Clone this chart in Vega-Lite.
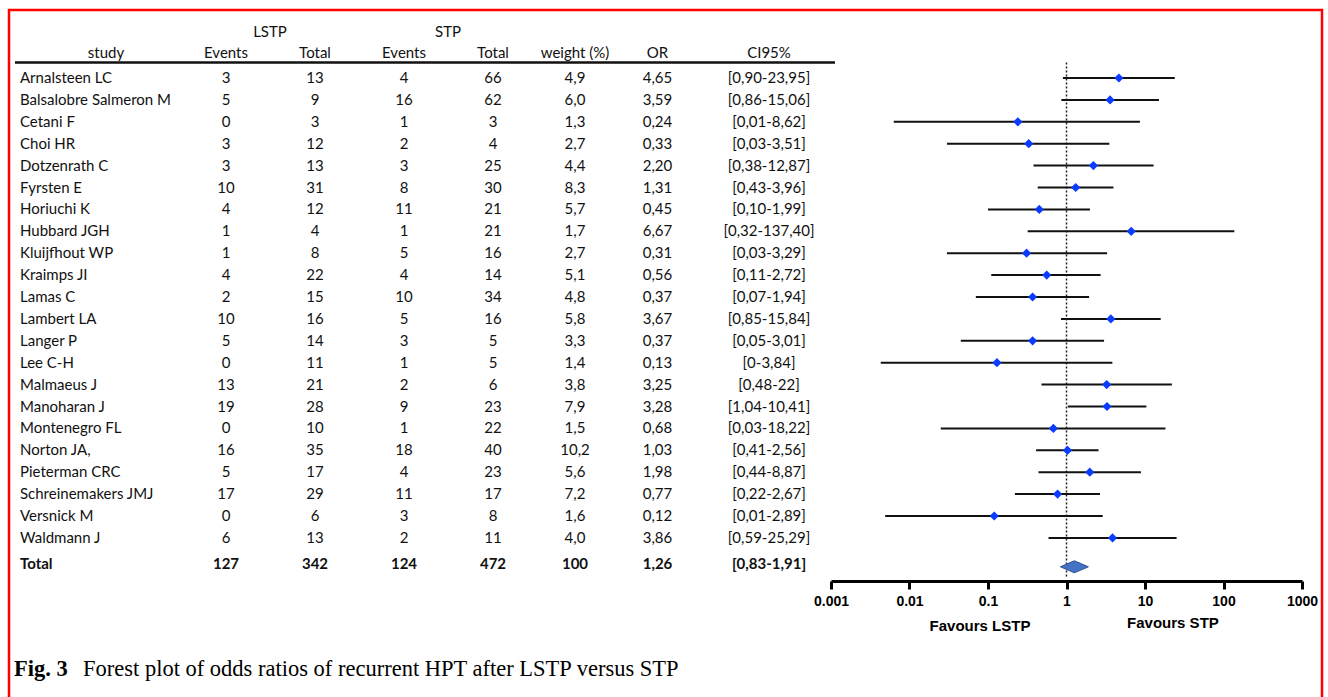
{
  "$schema": "https://vega.github.io/schema/vega-lite/v6.json",
  "width": 1313,
  "height": 687,
  "autosize": {"type": "none"},
  "padding": {"top": 10, "left": 9, "right": 6, "bottom": 0},
  "background": "white",
  "config": {
    "view": {"stroke": "#ff0000", "strokeWidth": 2.5, "strokeDash": [2000, 1313, 800]},
    "locale": {"number": {"decimal": ",", "thousands": ".", "grouping": [3], "currency": ["", " €"]}},
    "text": {"font": "Lato", "fontSize": 15, "color": "#111111", "baseline": "middle"}
  },
  "datasets": {
    "rows": [
      {"study": "Arnalsteen LC", "eL": 3, "tL": 13, "eS": 4, "tS": 66, "weight": "4,9", "or": 4.65, "ci": "[0,90-23,95]", "lo": 0.90, "hi": 23.95},
      {"study": "Balsalobre Salmeron M", "eL": 5, "tL": 9, "eS": 16, "tS": 62, "weight": "6,0", "or": 3.59, "ci": "[0,86-15,06]", "lo": 0.86, "hi": 15.06},
      {"study": "Cetani F", "eL": 0, "tL": 3, "eS": 1, "tS": 3, "weight": "1,3", "or": 0.24, "ci": "[0,01-8,62]", "lo": 0.0063, "hi": 8.62},
      {"study": "Choi HR", "eL": 3, "tL": 12, "eS": 2, "tS": 4, "weight": "2,7", "or": 0.33, "ci": "[0,03-3,51]", "lo": 0.03, "hi": 3.51},
      {"study": "Dotzenrath C", "eL": 3, "tL": 13, "eS": 3, "tS": 25, "weight": "4,4", "or": 2.20, "ci": "[0,38-12,87]", "lo": 0.38, "hi": 12.87},
      {"study": "Fyrsten E", "eL": 10, "tL": 31, "eS": 8, "tS": 30, "weight": "8,3", "or": 1.31, "ci": "[0,43-3,96]", "lo": 0.43, "hi": 3.96},
      {"study": "Horiuchi K", "eL": 4, "tL": 12, "eS": 11, "tS": 21, "weight": "5,7", "or": 0.45, "ci": "[0,10-1,99]", "lo": 0.10, "hi": 1.99},
      {"study": "Hubbard JGH", "eL": 1, "tL": 4, "eS": 1, "tS": 21, "weight": "1,7", "or": 6.67, "ci": "[0,32-137,40]", "lo": 0.32, "hi": 137.4},
      {"study": "Kluijfhout WP", "eL": 1, "tL": 8, "eS": 5, "tS": 16, "weight": "2,7", "or": 0.31, "ci": "[0,03-3,29]", "lo": 0.03, "hi": 3.29},
      {"study": "Kraimps JI", "eL": 4, "tL": 22, "eS": 4, "tS": 14, "weight": "5,1", "or": 0.56, "ci": "[0,11-2,72]", "lo": 0.11, "hi": 2.72},
      {"study": "Lamas C", "eL": 2, "tL": 15, "eS": 10, "tS": 34, "weight": "4,8", "or": 0.37, "ci": "[0,07-1,94]", "lo": 0.07, "hi": 1.94},
      {"study": "Lambert LA", "eL": 10, "tL": 16, "eS": 5, "tS": 16, "weight": "5,8", "or": 3.67, "ci": "[0,85-15,84]", "lo": 0.85, "hi": 15.84},
      {"study": "Langer P", "eL": 5, "tL": 14, "eS": 3, "tS": 5, "weight": "3,3", "or": 0.37, "ci": "[0,05-3,01]", "lo": 0.045, "hi": 3.01},
      {"study": "Lee C-H", "eL": 0, "tL": 11, "eS": 1, "tS": 5, "weight": "1,4", "or": 0.13, "ci": "[0-3,84]", "lo": 0.0043, "hi": 3.84},
      {"study": "Malmaeus J", "eL": 13, "tL": 21, "eS": 2, "tS": 6, "weight": "3,8", "or": 3.25, "ci": "[0,48-22]", "lo": 0.48, "hi": 22},
      {"study": "Manoharan J", "eL": 19, "tL": 28, "eS": 9, "tS": 23, "weight": "7,9", "or": 3.28, "ci": "[1,04-10,41]", "lo": 1.04, "hi": 10.41},
      {"study": "Montenegro FL", "eL": 0, "tL": 10, "eS": 1, "tS": 22, "weight": "1,5", "or": 0.68, "ci": "[0,03-18,22]", "lo": 0.025, "hi": 18.22},
      {"study": "Norton JA,", "eL": 16, "tL": 35, "eS": 18, "tS": 40, "weight": "10,2", "or": 1.03, "ci": "[0,41-2,56]", "lo": 0.41, "hi": 2.56},
      {"study": "Pieterman CRC", "eL": 5, "tL": 17, "eS": 4, "tS": 23, "weight": "5,6", "or": 1.98, "ci": "[0,44-8,87]", "lo": 0.44, "hi": 8.87},
      {"study": "Schreinemakers JMJ", "eL": 17, "tL": 29, "eS": 11, "tS": 17, "weight": "7,2", "or": 0.77, "ci": "[0,22-2,67]", "lo": 0.22, "hi": 2.67},
      {"study": "Versnick M", "eL": 0, "tL": 6, "eS": 3, "tS": 8, "weight": "1,6", "or": 0.12, "ci": "[0,01-2,89]", "lo": 0.0049, "hi": 2.89},
      {"study": "Waldmann J", "eL": 6, "tL": 13, "eS": 2, "tS": 11, "weight": "4,0", "or": 3.86, "ci": "[0,59-25,29]", "lo": 0.59, "hi": 25.29},
      {"study": "Total", "eL": 127, "tL": 342, "eS": 124, "tS": 472, "weight": "100", "or": 1.26, "ci": "[0,83-1,91]", "lo": 0.83, "hi": 1.91}
    ]
  },
  "resolve": {"scale": {"x": "independent"}},
  "layer": [
    {
      "layer": [
        {
          "data": {"name": "rows"},
          "transform": [{"filter": "datum.study !== 'Total'"}],
          "mark": {"type": "text", "align": "left", "dx": 5},
          "encoding": {
            "x": {"datum": "left", "type": "nominal", "scale": {"type": "point", "domain": ["left", "right"], "range": [6, 826], "padding": 0}, "axis": null},
            "y": {"field": "study", "type": "nominal", "axis": null, "scale": {"type": "band", "domain": ["grp", "hdr", "Arnalsteen LC", "Balsalobre Salmeron M", "Cetani F", "Choi HR", "Dotzenrath C", "Fyrsten E", "Horiuchi K", "Hubbard JGH", "Kluijfhout WP", "Kraimps JI", "Lamas C", "Lambert LA", "Langer P", "Lee C-H", "Malmaeus J", "Manoharan J", "Montenegro FL", "Norton JA,", "Pieterman CRC", "Schreinemakers JMJ", "Versnick M", "Waldmann J", "Total", "sp1", "sp2", "fav", "sp3", "cap"], "range": [13.25, 670.25], "paddingInner": 0, "paddingOuter": 0}},
            "text": {"field": "study", "type": "nominal"}
          }
        },
        {
          "data": {"name": "rows"},
          "transform": [{"filter": "datum.study === 'Total'"}],
          "mark": {"type": "text", "align": "left", "dx": 5, "dy": 4, "fontWeight": "bold"},
          "encoding": {
            "x": {"datum": "left", "type": "nominal"},
            "y": {"field": "study", "type": "nominal"},
            "text": {"field": "study", "type": "nominal"}
          }
        },
        {
          "data": {"values": [{"label": "study", "row": "hdr"}]},
          "mark": {"type": "text", "align": "center", "dx": 91, "dy": -3},
          "encoding": {
            "x": {"datum": "left", "type": "nominal"},
            "y": {"field": "row", "type": "nominal"},
            "text": {"field": "label", "type": "nominal"}
          }
        },
        {
          "data": {"values": [{"row": "hdr"}]},
          "mark": {"type": "rule", "strokeWidth": 2.5, "color": "#111111"},
          "encoding": {
            "x": {"datum": "left", "type": "nominal"},
            "x2": {"datum": "right"},
            "y": {"datum": "hdr", "type": "nominal", "bandPosition": 0.79}
          }
        },
        {
          "data": {"values": [{"label": "Fig. 3", "row": "cap"}]},
          "mark": {"type": "text", "align": "left", "dx": -1, "font": "Liberation Serif", "fontSize": 22.5, "fontWeight": "bold", "color": "#000000"},
          "encoding": {
            "x": {"datum": "left", "type": "nominal"},
            "y": {"field": "row", "type": "nominal"},
            "text": {"field": "label", "type": "nominal"}
          }
        },
        {
          "data": {"values": [{"label": "Forest plot of odds ratios of recurrent HPT after LSTP versus STP", "row": "cap"}]},
          "mark": {"type": "text", "align": "left", "dx": 68, "font": "Liberation Serif", "fontSize": 22.5, "color": "#000000"},
          "encoding": {
            "x": {"datum": "left", "type": "nominal"},
            "y": {"field": "row", "type": "nominal"},
            "text": {"field": "label", "type": "nominal"}
          }
        }
      ]
    },
    {
      "layer": [
        {
          "data": {"name": "rows"},
          "transform": [{"filter": "datum.study !== 'Total'"}, {"fold": ["eL", "tL", "eS", "tS"], "as": ["col", "val"]}],
          "mark": {"type": "text"},
          "encoding": {
            "x": {"field": "col", "type": "nominal", "scale": {"type": "point", "domain": ["eL", "tL", "eS", "tS"], "range": [217, 484], "padding": 0}, "axis": null},
            "y": {"field": "study", "type": "nominal"},
            "text": {"field": "val", "type": "quantitative"}
          }
        },
        {
          "data": {"name": "rows"},
          "transform": [{"filter": "datum.study === 'Total'"}, {"fold": ["eL", "tL", "eS", "tS"], "as": ["col", "val"]}],
          "mark": {"type": "text", "fontWeight": "bold", "dy": 4},
          "encoding": {
            "x": {"field": "col", "type": "nominal"},
            "y": {"field": "study", "type": "nominal"},
            "text": {"field": "val", "type": "quantitative"}
          }
        },
        {
          "data": {"values": [{"col": "eL", "row": "hdr", "label": "Events"}, {"col": "tL", "row": "hdr", "label": "Total"}, {"col": "eS", "row": "hdr", "label": "Events"}, {"col": "tS", "row": "hdr", "label": "Total"}]},
          "mark": {"type": "text", "dy": -3},
          "encoding": {
            "x": {"field": "col", "type": "nominal"},
            "y": {"field": "row", "type": "nominal"},
            "text": {"field": "label", "type": "nominal"}
          }
        },
        {
          "data": {"values": [{"col": "eL", "row": "grp", "label": "LSTP"}, {"col": "eS", "row": "grp", "label": "STP"}]},
          "mark": {"type": "text", "dx": 44, "dy": -2},
          "encoding": {
            "x": {"field": "col", "type": "nominal"},
            "y": {"field": "row", "type": "nominal"},
            "text": {"field": "label", "type": "nominal"}
          }
        }
      ]
    },
    {
      "layer": [
        {
          "data": {"name": "rows"},
          "transform": [{"filter": "datum.study !== 'Total'"}],
          "mark": {"type": "text"},
          "encoding": {
            "x": {"datum": "weight", "type": "nominal", "scale": {"type": "point", "domain": ["weight", "or"], "range": [566, 648.5], "padding": 0}, "axis": null},
            "y": {"field": "study", "type": "nominal"},
            "text": {"field": "weight", "type": "nominal"}
          }
        },
        {
          "data": {"name": "rows"},
          "transform": [{"filter": "datum.study === 'Total'"}],
          "mark": {"type": "text", "fontWeight": "bold", "dy": 4},
          "encoding": {
            "x": {"datum": "weight", "type": "nominal"},
            "y": {"field": "study", "type": "nominal"},
            "text": {"field": "weight", "type": "nominal"}
          }
        },
        {
          "data": {"name": "rows"},
          "transform": [{"filter": "datum.study !== 'Total'"}],
          "mark": {"type": "text"},
          "encoding": {
            "x": {"datum": "or", "type": "nominal"},
            "y": {"field": "study", "type": "nominal"},
            "text": {"field": "or", "type": "quantitative", "format": ".2f"}
          }
        },
        {
          "data": {"name": "rows"},
          "transform": [{"filter": "datum.study === 'Total'"}],
          "mark": {"type": "text", "fontWeight": "bold", "dy": 4},
          "encoding": {
            "x": {"datum": "or", "type": "nominal"},
            "y": {"field": "study", "type": "nominal"},
            "text": {"field": "or", "type": "quantitative", "format": ".2f"}
          }
        },
        {
          "data": {"values": [{"col": "weight", "row": "hdr", "label": "weight (%)"}, {"col": "or", "row": "hdr", "label": "OR"}]},
          "mark": {"type": "text", "dy": -3},
          "encoding": {
            "x": {"field": "col", "type": "nominal"},
            "y": {"field": "row", "type": "nominal"},
            "text": {"field": "label", "type": "nominal"}
          }
        }
      ]
    },
    {
      "layer": [
        {
          "data": {"name": "rows"},
          "transform": [{"filter": "datum.study !== 'Total'"}],
          "mark": {"type": "text"},
          "encoding": {
            "x": {"datum": "ci", "type": "nominal", "scale": {"type": "point", "domain": ["ci"], "range": [760, 760], "padding": 0}, "axis": null},
            "y": {"field": "study", "type": "nominal"},
            "text": {"field": "ci", "type": "nominal"}
          }
        },
        {
          "data": {"name": "rows"},
          "transform": [{"filter": "datum.study === 'Total'"}],
          "mark": {"type": "text", "fontWeight": "bold", "dy": 4},
          "encoding": {
            "x": {"datum": "ci", "type": "nominal"},
            "y": {"field": "study", "type": "nominal"},
            "text": {"field": "ci", "type": "nominal"}
          }
        },
        {
          "data": {"values": [{"col": "ci", "row": "hdr", "label": "CI95%"}]},
          "mark": {"type": "text", "dy": -3},
          "encoding": {
            "x": {"field": "col", "type": "nominal"},
            "y": {"field": "row", "type": "nominal"},
            "text": {"field": "label", "type": "nominal"}
          }
        }
      ]
    },
    {
      "layer": [
        {
          "data": {"values": [{"row": "hdr"}]},
          "mark": {"type": "rule", "strokeDash": [2, 2], "strokeWidth": 1.5, "color": "#222222"},
          "encoding": {
            "x": {"datum": 1, "type": "quantitative", "title": null,
              "scale": {"type": "log", "domain": [0.001, 1000], "range": [822, 1293], "nice": false},
              "axis": {"values": [0.001, 0.01, 0.1, 1, 10, 100, 1000], "labelExpr": "toString(datum.value)", "orient": "bottom", "offset": -116, "title": null, "grid": false,
                "domainColor": "#000000", "domainWidth": 3, "tickColor": "#000000", "tickWidth": 3, "tickSize": 8,
                "labelFont": "Liberation Sans", "labelFontWeight": "bold", "labelFontSize": 14, "labelColor": "#000000", "labelPadding": 5, "labelFlush": false, "labelOverlap": false}},
            "y": {"datum": "hdr", "type": "nominal", "bandPosition": 0.79},
            "y2": {"datum": "sp1", "bandPosition": 0.35}
          }
        },
        {
          "data": {"name": "rows"},
          "transform": [{"filter": "datum.study !== 'Total'"}],
          "mark": {"type": "rule", "strokeWidth": 2, "color": "#111111"},
          "encoding": {
            "x": {"field": "lo", "type": "quantitative", "title": null},
            "x2": {"field": "hi"},
            "y": {"field": "study", "type": "nominal"}
          }
        },
        {
          "data": {"name": "rows"},
          "transform": [{"filter": "datum.study !== 'Total'"}],
          "mark": {"type": "point", "shape": "diamond", "filled": true, "color": "#0a3cff", "size": 85, "opacity": 1},
          "encoding": {
            "x": {"field": "or", "type": "quantitative", "title": null},
            "y": {"field": "study", "type": "nominal"}
          }
        },
        {
          "data": {"name": "rows"},
          "transform": [{"filter": "datum.study === 'Total'"}],
          "mark": {"type": "point", "shape": "M-1,0.5L0,0.07L1,0.5L0,0.93Z", "filled": true, "fill": "#4472c4", "stroke": "#2f528f", "strokeWidth": 1, "size": 784, "opacity": 1},
          "encoding": {
            "x": {"field": "or", "type": "quantitative", "title": null},
            "y": {"field": "study", "type": "nominal"}
          }
        },
        {
          "data": {"values": [{"label": "Favours LSTP", "row": "fav"}]},
          "mark": {"type": "text", "font": "Liberation Sans", "fontWeight": "bold", "fontSize": 15, "color": "#000000"},
          "encoding": {
            "x": {"datum": 0.079, "type": "quantitative", "title": null},
            "y": {"field": "row", "type": "nominal"},
            "text": {"field": "label", "type": "nominal"}
          }
        },
        {
          "data": {"values": [{"label": "Favours STP", "row": "fav"}]},
          "mark": {"type": "text", "font": "Liberation Sans", "fontWeight": "bold", "fontSize": 15, "color": "#000000", "dy": -3},
          "encoding": {
            "x": {"datum": 22.7, "type": "quantitative", "title": null},
            "y": {"field": "row", "type": "nominal"},
            "text": {"field": "label", "type": "nominal"}
          }
        }
      ]
    }
  ]
}
